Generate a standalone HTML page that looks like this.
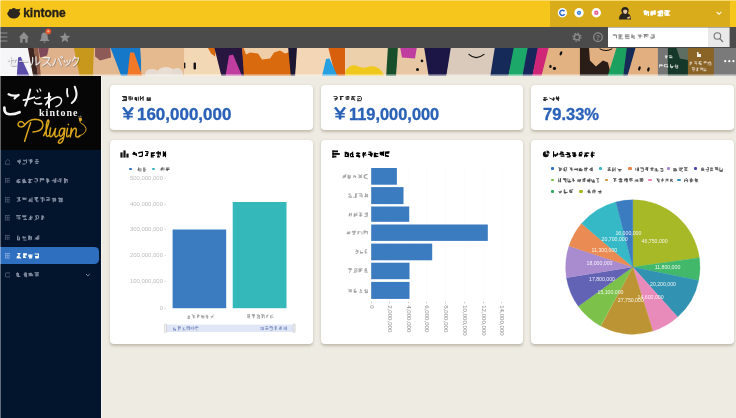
<!DOCTYPE html>
<html><head><meta charset="utf-8">
<style>
*{margin:0;padding:0;box-sizing:border-box}
html,body{width:736px;height:418px;overflow:hidden;background:#eeebe3;font-family:"Liberation Sans",sans-serif}
.abs{position:absolute}
#top{left:-4px;top:-4px;width:744px;height:31px;background:#f6c61c}
#topdark{left:550px;top:1px;width:180px;height:26px;background:#d9ac1b}
#tool{left:-4px;top:26.8px;width:744px;height:20.9px;background:#4b4b4b}
#side{left:-4px;top:76px;width:104.5px;height:346px;background:#03142d}
#logo{left:0;top:0;width:104.5px;height:74px;background:#060606}
.card{position:absolute;background:#fff;border-radius:4px;box-shadow:0 1.2px 2.8px rgba(100,90,65,.33)}
.val{position:absolute;font-weight:bold;font-size:17px;color:#2a62b8;line-height:17px;-webkit-text-stroke:.35px #2a62b8;white-space:nowrap;transform-origin:0 0}
.ax{position:absolute;font-size:5.2px;line-height:6px;color:#9a9a9a;white-space:nowrap}
.dot{position:absolute;width:3.4px;height:3.4px;border-radius:1.1px}
#w{position:absolute;left:0;top:0;width:736px;height:418px;filter:blur(.5px);background:#eeebe3}
</style></head><body><div id="w">
<div id="top" class="abs"></div>
<div id="topdark" class="abs"></div><div class="abs" style="left:0;top:0;width:736px;height:1.2px;background:#fff;opacity:.35"></div>
<div id="tool" class="abs"></div>

<svg class="abs" style="left:0;top:47.6px" width="736" height="28.4" viewBox="0 47.6 736 28.4">
<defs><filter id="bl" x="-2%" y="-10%" width="104%" height="120%"><feGaussianBlur stdDeviation="0.6"/></filter></defs>
<g filter="url(#bl)">
<rect x="-2" y="46" width="740" height="32" fill="#e2b48c"/>
<!-- seg1 -->
<polygon points="-2,46 28,46 34,78 -2,78" fill="#f6f6f8"/>
<polygon points="16.5,78 18,57 20.6,56.4 30.6,78" fill="#5a4eaa"/>
<polygon points="27.5,46 33.4,46 38.4,78 33.5,78" fill="#3c2620"/><polygon points="33.4,46 38.5,46 41.5,78 38.4,78" fill="#8c5c48"/>
<polygon points="38,46 74,46 80,78 41,78" fill="#e0b28c"/>
<polygon points="38,46 49,46 47,55 40,57" fill="#7e4858"/>
<polygon points="73.5,46 94,46 93,78 80,78" fill="#c8981c"/>
<polygon points="94,46 111,46 122,78 93,78" fill="#e2b890"/>
<polygon points="95,46 110,46 111,57 100,60 95,56" fill="#8e5a58"/>
<polygon points="110,46 141,46 141,78 122,78" fill="#1878c8"/>
<polygon points="127,78 130,52 134,52 143,78" fill="#f07828"/>
<polygon points="140,46 186,46 186,78 142,78" fill="#e4ba8e"/>
<g opacity=".8"><ellipse cx="152" cy="73.5" rx="7" ry="5" fill="#e8e4e2"/><ellipse cx="166" cy="72.5" rx="9" ry="6" fill="#ebe7e5"/><ellipse cx="177" cy="73.5" rx="6" ry="6" fill="#e6e2e0"/></g>
<!-- seg2 -->
<polygon points="184,46 214,46 222,78 184,78" fill="#f3d8b6"/>
<polygon points="207,46 216,46 215,56 211,53" fill="#d8680f"/>
<polygon points="214,46 242,46 245,78 222,78" fill="#261640"/>
<polygon points="225,78 229,55 233,54 243,78" fill="#c03ca0"/>
<polygon points="242,46 291,46 291,78 244,78" fill="#d96a10"/>
<polygon points="243,46 291,46 291,51 285,53 280,50 274,52 270,58 262,59 258,53 250,52 246,54" fill="#f0cfa8"/>
<polygon points="288,46 298,46 295,78 291,78" fill="#1a1430"/>
<polygon points="297,46 330,46 336,78 295,78" fill="#f3d6b6"/>
<polygon points="328,46 346,46 345,78 336,78" fill="#d8600f"/>
<polygon points="321.5,78 326,58.5 329.5,58 338.5,78" fill="#28a0e0"/>
<polygon points="345,46 388,46 388,78 345,78" fill="#ecd0ac"/>
<path d="M345,78 L345.5,70 Q350,64 356,65 Q362,68 366,67 Q373,64.5 379,68 Q383,71 385,78 Z" fill="#f0c81a"/>
<!-- seg3 -->
<polygon points="388,46 399,46 396,78 386,78" fill="#18502a"/>
<polygon points="398,46 426,46 430,78 396,78" fill="#e8c8a4"/>
<polygon points="400,46 417,46 415,58 402,57" fill="#c03ca0"/>
<polygon points="424,46 452,46 446,78 429,78" fill="#1e1646"/>
<polygon points="451,46 496,46 491,78 446,78" fill="#d9cabb"/>
<polygon points="495,46 515,46 508,78 490,78" fill="#182a5a"/>
<polygon points="514,46 529,46 522,78 508,78" fill="#1fa868"/>
<polygon points="528,46 539,46 532,78 522,78" fill="#18285a"/>
<polygon points="538,46 550,46 541,78 532,78" fill="#d02878"/>
<polygon points="549,46 582,46 582,78 541,78" fill="#e2b282"/>
<!-- seg4 -->
<polygon points="580,46 612,46 612,78 580,78" fill="#e0b080"/>
<polygon points="580,46 589,46 590,60 596,66 603,60 608,62 612,78 580,78" fill="#2a1a16"/>
<polygon points="617,46 629,46 623,78 607,78" fill="#1fa060"/>
<polygon points="627,46 637,46 627,78 623,78" fill="#182a58"/>
<polygon points="636,46 660,46 660,78 627,78" fill="#e2b080"/>
<rect x="658" y="46" width="12" height="32" fill="#747474"/>
<rect x="668" y="46" width="21" height="32" fill="#12382a"/>
<polygon points="676,46 690,46 690,60 680,58" fill="#5e6e62"/>
<rect x="688" y="46" width="27" height="32" fill="#8a6428"/>
<rect x="714" y="46" width="24" height="32" fill="#7a7a7a"/>
</g>
<!-- faces -->
<g fill="#111">
<rect x="184" y="62" width="1.3" height="6" rx=".6"/><rect x="193.5" y="62" width="2.4" height="7" rx="1"/>
<circle cx="422" cy="60.5" r="1.3"/><circle cx="417.5" cy="69" r="1.5"/>
<ellipse cx="561" cy="53" rx="1.2" ry="2.2" transform="rotate(20 561 53)"/><ellipse cx="554.5" cy="68" rx="1.6" ry="1.6"/>
<ellipse cx="639.5" cy="68" rx="1.2" ry="2.3" transform="rotate(15 639.5 68)"/><ellipse cx="648.5" cy="69" rx="1.2" ry="2.3" transform="rotate(15 648.5 69)"/>
<ellipse cx="550.5" cy="66" rx="1.2" ry="1.6"/>
</g>
<path d="M469,54 Q476,60.5 484,54" fill="none" stroke="#111" stroke-width="1.2" stroke-linecap="round"/>
<path d="M600,48.5 Q606,52 612,48.5" fill="none" stroke="#111" stroke-width="1" stroke-linecap="round"/>
<rect x="0" y="74" width="736" height="2" fill="#fff" opacity=".55"/>
</svg>

<svg class="abs" style="left:0;top:0" width="736" height="48" viewBox="0 0 736 48">
<!-- kintone cloud -->
<g fill="#2b2620">
<ellipse cx="13.7" cy="14.2" rx="5.9" ry="4.2"/>
<circle cx="10.8" cy="11.2" r="2.1"/><circle cx="13.8" cy="10.3" r="2.2"/><circle cx="16.8" cy="11.2" r="2.1"/>
<circle cx="9" cy="13.4" r="1.7"/><circle cx="18.4" cy="13.4" r="1.7"/><path d="M17,10 L20.4,8.6 L19.6,11.6Z"/>
</g>
<text x="23.2" y="17.1" font-family="Liberation Sans, sans-serif" font-weight="bold" font-size="12.2" fill="#241f1a" stroke="#241f1a" stroke-width=".35" textLength="42.6" lengthAdjust="spacingAndGlyphs">kintone</text>
<!-- right icons -->
<g>
<circle cx="562.4" cy="12.8" r="4.7" fill="#fff"/><circle cx="579" cy="12.8" r="4.7" fill="#fff"/><circle cx="596.3" cy="12.8" r="4.7" fill="#fff"/>
<path d="M564.4,11.2 A2.6,2.6 0 1 0 564.6,14.2" fill="none" stroke="#2a6ad0" stroke-width="1.5"/>
<circle cx="579" cy="12.8" r="2.1" fill="#2a78d8"/><circle cx="579" cy="12.8" r=".8" fill="#cfe0f8"/>
<circle cx="596.3" cy="12.8" r="2.2" fill="#e8608a"/><circle cx="596.3" cy="12.8" r=".8" fill="#fbd"/>
</g>
<!-- avatar -->
<g>
<path d="M619,19.5 Q619,13 625,12.5 Q631,13 631,19.5 Z" fill="#2a2420"/>
<circle cx="625" cy="10.6" r="3.6" fill="#2a2420"/>
<ellipse cx="625.2" cy="11.6" rx="2.1" ry="2.3" fill="#e8c8a8"/>
<path d="M621.6,10 Q625,6.5 628.6,10 Q625,9 621.6,10Z" fill="#2a2420"/>
<path d="M627,17.5 l3,-1.2 l.6,1.6 l-3,1.2z" fill="#e0c080"/>
</g>
<!-- chevron -->
<path d="M716.6,11.8 L719,14.2 L721.4,11.8" fill="none" stroke="#fff" stroke-width="1.1" opacity=".9"/>
<!-- toolbar left -->
<g fill="none" stroke="#8e8e8e" stroke-width="1.1"><path d="M0,33 H7.4 M0,37 H7.4 M0,41 H7.4"/></g>
<g fill="#8f8f8f">
<path d="M18.8,37.4 L23.9,32 L29,37.4 L27.6,37.4 L27.6,42.8 L25.2,42.8 L25.2,39 L22.6,39 L22.6,42.8 L20.2,42.8 L20.2,37.4 Z"/>
<path d="M44.5,32.4 Q47.6,32.6 47.7,36.4 L47.9,39 L49.2,40.3 L49.2,41 L39.8,41 L39.8,40.3 L41.1,39 L41.3,36.4 Q41.4,32.6 44.5,32.4 Z"/><rect x="43.5" y="41.4" width="2" height="1.3" rx=".6"/>
<path d="M64.9,32.2 L66.4,35.7 L70.2,36 L67.3,38.5 L68.2,42.3 L64.9,40.3 L61.6,42.3 L62.5,38.5 L59.6,36 L63.4,35.7 Z"/>
</g>
<circle cx="48.3" cy="31.4" r="2.9" fill="#e5532a"/><circle cx="48.3" cy="31.4" r="1.1" fill="#f6b8a0"/>
<!-- gear / help -->
<g fill="none" stroke="#8a8a8a">
<circle cx="577" cy="37.2" r="2.7" stroke-width="1.4"/><circle cx="577" cy="37.2" r="4" stroke-width="1.3" stroke-dasharray="1.4 1.74"/>
<circle cx="598" cy="37.2" r="4.3" stroke-width="1.3"/>
</g>
<text x="598" y="39.6" text-anchor="middle" font-family="Liberation Sans, sans-serif" font-weight="bold" font-size="6.6" fill="#8a8a8a">?</text>
<!-- search -->
<rect x="608" y="27.4" width="100" height="19.6" fill="#fff"/>
<rect x="708" y="27.4" width="21.6" height="19.6" fill="#e9e9e9"/>
<circle cx="717.4" cy="36" r="3.3" fill="none" stroke="#777" stroke-width="1.1"/><path d="M719.8,38.6 L723,42" stroke="#777" stroke-width="1.3"/>
</svg>
<svg class="abs" style="left:612px;top:34.3px;opacity:0.8;filter:blur(0.35px);" width="44" height="6.2" viewBox="0 0 44 6.2"><path d="M1.3,0.5H3.7M4.3,0.4V3.5M0.8,1.4H3.7M4.5,1.1V4.4M6.4,4.8H11.2M6.5,0.9H10.4M6.8,3.3L10.4,1.9M7.0,0.1V3.8M8.6,0.6V4.4M8.0,1.4V4.7M13.2,2.6H16.9M13.4,0.9V3.7M13.3,4.6H17.7M13.8,2.9H17.5M13.4,1.9H17.4M13.0,0.7H17.3M22.1,1.8V4.9M20.0,2.1H22.6M20.1,0.2V3.5M19.9,0.5V4.1M19.1,2.9L22.6,4.6M21.2,2.2L22.2,1.9M25.6,1.1H29.2M28.2,0.5V3.4M26.1,2.0H30.3M27.9,1.1V4.6M32.6,0.5L35.1,3.3M31.9,0.6H35.4M31.6,0.5H35.4M31.6,2.0H36.5M32.6,0.5V4.0M32.9,0.8H36.7M39.0,0.9H42.6M41.3,0.9V3.8M38.8,4.8L42.2,3.9M38.0,3.3H42.8M42.2,0.6V3.8" fill="none" stroke="#666" stroke-width="0.80"/></svg><svg class="abs" style="left:643px;top:9.6px;opacity:1;filter:blur(0.3px);" width="28.5" height="7.2" viewBox="0 0 28.5 7.2"><path d="M1.5,1.6H6.2M2.5,4.6L5.6,1.4M2.3,0.1V4.1M1.3,1.8H6.1M5.4,2.1V6.1M0.4,1.5H4.7M9.0,5.6L10.2,2.1M11.9,0.3V4.9M8.6,1.9V5.0M8.0,2.1V5.6M11.5,0.2V4.4M7.2,2.9L12.0,4.1M16.2,3.4L18.4,0.8M15.4,5.7H19.5M15.5,5.1L20.0,1.3M14.6,1.9H19.6M14.4,2.6H20.2M15.3,2.9H20.2M22.2,1.2H27.3M25.0,1.7V4.4M21.5,3.8H25.8M24.6,1.0V5.7M21.5,0.3L25.0,0.6M21.9,1.9V4.2" fill="none" stroke="#fff" stroke-width="1.30"/></svg><svg class="abs" style="left:643px;top:9.6px;opacity:0.9;filter:blur(0.3px);" width="28.5" height="7.2" viewBox="0 0 28.5 7.2"><path d="M1.5,0.6V5.1M1.6,3.2L3.9,5.4M2.9,1.3L5.9,2.8M0.6,2.5H5.6M1.6,0.7V4.3M5.4,1.4V4.8M7.8,2.5L13.2,3.0M9.7,2.7L10.7,3.2M7.7,1.4H12.8M7.9,3.4H11.5M14.4,5.7H20.2M14.4,5.2H19.0M14.8,5.1L19.6,5.3M19.6,0.9V5.2M17.3,0.7V4.6M14.8,1.7L20.1,0.1M21.4,5.1H27.2M23.6,1.2V6.0M22.3,1.0H26.1M21.4,1.2H26.0M22.7,2.0H26.2" fill="none" stroke="#fff" stroke-width="1.20"/></svg><svg class="abs" style="left:0;top:48px" width="736" height="28" viewBox="0 48 736 28">
<defs><filter id="sh" x="-5%" y="-30%" width="110%" height="160%"><feDropShadow dx="0.5" dy="0.6" stdDeviation="0.5" flood-color="#333" flood-opacity=".75"/></filter></defs>
<g fill="none" stroke="#f4f4f4" stroke-width="1.05" stroke-linecap="round" stroke-linejoin="round" filter="url(#sh)" opacity=".92">
<!-- se -->
<path d="M8,60.2 L15.6,59 L14,61.8 M10.6,57 L10.6,63.8 Q10.8,65.2 12.4,65.2 L16,65.2"/>
<!-- - -->
<path d="M19.5,61.2 L27.5,61.2"/>
<!-- ru -->
<path d="M32.6,57.2 L32.6,61.6 Q32.4,64.2 30.6,65.6 M36,56.8 L36,65 Q38.6,64.2 40,61.6"/>
<!-- su -->
<path d="M43,57.6 L49.6,57.6 Q48.4,62.4 42.6,65.6 M47,62 L50.6,65.6"/>
<!-- pa -->
<path d="M55.4,59 Q55,62.6 52.8,65.4 M58.6,58.6 Q60,62 61.4,65.2"/><circle cx="61.6" cy="57.4" r="1" stroke-width=".9"/>
<!-- tsu -->
<path d="M64.4,60.6 L65,62.4 M66.8,60.2 L67.4,62 M70.4,59.8 Q70,63.4 66,65.6"/>
<!-- ku -->
<path d="M74.6,56.8 Q73.8,59.4 72.4,61 M74.4,58 L78.6,58 Q78,63 73.6,65.8"/>
</g>
<g fill="#fff">
<circle cx="725.2" cy="61.2" r="1.1"/><circle cx="729.3" cy="61.2" r="1.1"/><circle cx="733.4" cy="61.2" r="1.1"/>
<path d="M697,52 h1.6 v2 h2.4 v3 h-4 z" opacity=".9"/>
</g>
</svg><svg class="abs" style="left:663.6px;top:54.4px;opacity:0.8;filter:blur(0.35px);" width="9.8" height="5.6" viewBox="0 0 9.8 5.6"><path d="M1.2,3.6H2.9M1.2,2.3H3.5M0.8,2.1H3.7M2.2,1.4V4.6M5.4,3.3L8.5,2.9M4.8,1.7H7.7M5.0,3.3H7.8M5.8,3.7H8.4" fill="none" stroke="#fff" stroke-width="0.80"/></svg><svg class="abs" style="left:658.5px;top:63.6px;opacity:0.8;filter:blur(0.35px);" width="21" height="5.6" viewBox="0 0 21 5.6"><path d="M0.5,0.3V3.4M0.4,1.7H4.5M1.2,0.4H3.5M0.1,1.6H3.6M5.5,0.4V3.1M5.2,0.4H8.8M5.9,2.7H9.4M8.3,1.4V3.6M11.2,3.2H13.5M12.3,3.4L14.0,3.7M11.0,2.4H14.6M12.2,4.1L13.9,3.1M11.5,0.1V3.2M15.5,2.1H18.7M16.7,0.4V3.7M16.7,4.1H18.8M18.7,0.8V4.3" fill="none" stroke="#fff" stroke-width="0.80"/></svg><svg class="abs" style="left:689px;top:60.8px;opacity:0.72;filter:blur(0.35px);" width="23.6" height="5.4" viewBox="0 0 23.6 5.4"><path d="M1.0,1.1V4.4M1.6,0.7V3.9M2.4,1.0V3.0M0.9,1.2H3.2M6.6,1.5V3.0M5.5,2.2H7.8M7.6,1.5V3.7M5.2,0.6H7.8M10.2,0.9L11.8,4.2M9.5,2.5H12.7M9.5,2.2L13.0,3.9M10.4,1.4V3.6M9.9,0.2H12.7M9.7,0.8H12.5M14.4,1.6H17.9M14.8,0.3H17.1M15.0,1.8H16.8M15.4,1.2L17.7,0.2M19.1,2.2L21.1,0.8M19.6,4.0H22.4M22.0,1.4V3.7M19.1,1.1V3.6M21.1,0.4V2.9M18.8,1.5L21.5,1.3" fill="none" stroke="#fff" stroke-width="0.66"/></svg><svg class="abs" style="left:692px;top:67.2px;opacity:0.72;filter:blur(0.35px);" width="16" height="5.2" viewBox="0 0 16 5.2"><path d="M0.3,2.7H2.9M0.2,0.8H2.5M0.8,3.8L2.0,4.2M0.7,0.3V2.9M0.2,0.6H2.6M2.7,1.1V3.3M4.6,1.2H6.7M5.2,1.0V3.5M5.3,3.8L5.7,1.6M5.4,0.5V3.9M4.1,3.2L6.3,3.4M4.7,3.9L5.7,3.9M8.2,0.6L9.6,2.2M10.7,1.1V3.7M9.3,0.8V2.8M8.2,2.7L11.0,1.3M8.4,1.2H10.8M11.9,3.8H14.3M11.7,4.2L14.2,1.2M11.9,3.4H14.5M12.0,0.6V3.7" fill="none" stroke="#fff" stroke-width="0.63"/></svg><div id="side" class="abs"><div id="logo" class="abs"></div></div><svg class="abs" style="left:0;top:76px" width="101" height="76" viewBox="0 76 101 76">
<g fill="none" stroke="#f4f4f4" stroke-linecap="round" stroke-linejoin="round" stroke-width="1.9">
<!-- ko -->
<path d="M8.6,94.2 Q13,96.6 18.6,95 Q16,96.6 14.6,98.4" stroke-width="2.3"/>
<path d="M4.4,107.6 Q4,113.6 9,114.2 Q14,114.6 19.6,112.2" stroke-width="2.7"/>
<!-- da -->
<path d="M23.4,100.2 Q29,99.4 34.4,97.2" stroke-width="1.7"/>
<path d="M30.2,89.6 Q28.4,98 25.2,105.6" stroke-width="2.1"/>
<path d="M35.6,98.4 Q38,98.6 40,97.4" stroke-width="1.5"/>
<path d="M34.6,102.4 Q35,104.6 41.6,103.6" stroke-width="1.6"/>
<path d="M37,90 L38,92 M39.8,89 L40.8,91" stroke-width="1.2"/>
<!-- wa -->
<path d="M49,93.2 L49,107.6" stroke-width="2"/>
<path d="M44.8,98.2 L50.6,96.6 L45.6,104.8 Q52,97.6 57.6,97 Q62.4,97.6 61.4,101.6 Q60.4,105 56,106.6" stroke-width="1.5"/>
<!-- ri -->
<path d="M67.2,88.8 Q66.6,93 67.8,96.4" stroke-width="1.8"/>
<path d="M74.8,86.8 Q77.4,93 76,97.4 Q75,100.8 71.8,103" stroke-width="2.1"/>
</g>
<text x="39" y="116.4" font-family="Liberation Serif, serif" font-weight="bold" font-size="10" fill="#f0f0f0" textLength="38.5" lengthAdjust="spacing">kintone</text>
<g fill="none" stroke="#dba51e" stroke-linecap="round" stroke-linejoin="round" stroke-width="1.5">
<!-- swirl + P -->
<path d="M24.6,124.6 Q22.6,120.4 19.4,122 Q16.6,124.2 19.4,126.6 Q23,128 25.6,124 Q29,119.6 35,119.2 Q43.4,119.4 43,125.4 Q42,131.6 33,132"/>
<path d="M30.6,122.8 Q27.4,132 24.6,141.2"/>
<!-- l -->
<path d="M43.6,135.6 Q47,130 48.8,122.4 Q49.2,119.6 47.8,120.2 Q45.6,124 46.2,134.4 Q46.4,137.4 48.6,135.6"/>
<!-- u -->
<path d="M50.6,128 Q49,135 50.2,136.6 Q52.6,137.6 55.6,128.4 Q54,136 55.6,136.8 Q56.8,137.2 58,135.4"/>
<!-- g -->
<path d="M64.2,129 Q61.6,126.8 59.6,131 Q58.4,135.6 60.6,136.4 Q63,136 64.8,128.2 Q64.4,137 62.6,141 Q60.4,144.4 58.4,142.6 Q58.2,140.2 63,137.6"/>
<!-- i -->
<path d="M67.6,128.2 Q66,135.6 67,136.6 Q68,137 69.2,135.4"/><path d="M68.4,124.4 L68.5,124.6" stroke-width="1.5"/>
<!-- n -->
<path d="M71.4,128.2 L70.2,137 Q71.6,129.8 74.8,128.2 Q76.6,128 76.2,131.4 Q75.2,136.4 76.4,136.8 Q78.4,137.2 80,135.6"/>
<!-- cord -->
<path d="M80,135.6 Q86.4,133.4 86,128.4 Q85,124.6 81.4,123.6 Q79.6,122.6 80,120.6" stroke-width="1"/>
</g>
<path d="M78.6,118 l2.8,-.6 l.8,3 l-2.8,.8z" fill="#e0aa20"/><path d="M79.2,117.6 l-.4,-1.6 M81,117.2 l-.4,-1.6" stroke="#e8e8e8" stroke-width=".6"/>
</svg><div class="abs" style="left:0;top:247.3px;width:98.6px;height:17.2px;background:#2e6fc0;border-radius:0 4.5px 4.5px 0"></div><svg class="abs" style="left:15.9px;top:159.3px;opacity:0.78;filter:blur(0.35px);" width="24.3" height="6.4" viewBox="0 0 24.3 6.4"><path d="M3.3,0.8V4.0M4.3,0.4V3.6M1.0,2.3H3.9M1.9,1.1L3.8,5.2M7.2,1.3H10.1M7.3,1.2L9.1,2.3M10.5,0.3V4.3M6.3,5.0H9.7M15.6,0.6V3.7M12.4,1.1H16.7M14.5,0.6V4.9M14.6,0.6L15.8,0.4M13.5,2.3H16.6M19.5,4.3H22.4M18.8,2.6H23.2M19.6,2.0H21.8M19.4,4.2H21.8M19.6,0.6H22.2" fill="none" stroke="#aeb6c6" stroke-width="0.90"/></svg><svg class="abs" style="left:4.7px;top:159.2px;opacity:.75" width="5.6" height="5.6" viewBox="0 0 6.4 6.4"><path d="M.4,3 L3.2,.5 L6,3 V6 H.4Z" fill="none" stroke="#9aa3b5" stroke-width=".8" opacity=".8"/></svg><svg class="abs" style="left:15.9px;top:178.0px;opacity:0.78;filter:blur(0.35px);" width="53.3" height="6.4" viewBox="0 0 53.3 6.4"><path d="M1.4,1.6H4.4M0.5,3.8H3.9M1.4,3.9H4.4M0.1,2.6L3.0,5.2M1.0,2.3L3.1,2.7M0.5,4.0L4.4,4.4M6.6,4.5H10.5M8.4,0.7V3.8M6.6,3.4H10.2M6.1,2.3H9.5M7.2,0.8V5.4M6.3,2.5L8.7,4.8M13.5,4.5L14.6,1.6M13.8,1.4V3.9M12.1,1.5H16.6M13.6,0.7V5.4M13.2,1.5V4.7M12.1,4.4L15.5,4.5M18.3,3.2L20.4,4.5M18.5,0.6H21.5M21.4,1.3V3.5M21.1,0.7V3.6M24.6,1.5H28.1M24.2,0.3H28.1M24.0,1.8H28.3M24.3,0.2V4.3M32.7,0.8V4.0M31.3,0.3L33.1,4.0M30.6,4.1L32.1,4.3M31.6,0.8V5.3M30.7,0.2V3.7M31.5,1.5V3.8M39.7,0.2V4.7M35.7,2.7H39.4M39.8,0.2V4.4M37.9,0.7L38.5,5.1M42.4,3.2H45.0M44.7,1.7V4.7M43.0,1.1L45.4,2.6M42.0,1.8V3.8M42.9,1.0H46.1M49.0,1.8L51.5,2.1M51.3,1.5V4.7M48.0,1.5H51.4M48.5,0.0V5.4M49.6,1.2V5.1M49.4,0.4L50.8,1.9" fill="none" stroke="#aeb6c6" stroke-width="0.90"/></svg><svg class="abs" style="left:4.7px;top:177.89999999999998px;opacity:.75" width="5.6" height="5.6" viewBox="0 0 6.4 6.4"><g fill="none" stroke="#8f98aa" stroke-width=".75" opacity=".8"><rect x=".5" y=".6" width="5.4" height="5.2"/><path d="M.5,3.2 H5.9 M3.2,.6 V5.8"/></g></svg><svg class="abs" style="left:15.9px;top:197.4px;opacity:0.78;filter:blur(0.35px);" width="47.7" height="6.4" viewBox="0 0 47.7 6.4"><path d="M3.1,0.1V3.8M0.8,0.4L4.3,4.1M1.6,0.1L4.4,0.4M3.3,0.2V3.8M0.7,4.3L4.5,3.7M7.1,2.0H9.7M6.6,0.8L10.5,2.7M6.5,2.7L9.1,1.7M6.2,1.2H10.8M12.1,4.1H16.2M13.8,1.6V4.6M16.0,0.2V5.4M14.0,1.5V4.0M13.4,4.1L15.3,2.4M18.6,1.7L21.6,5.2M20.2,4.0L22.6,4.0M18.8,1.7H22.0M18.6,0.5H22.3M18.7,0.5H21.8M20.5,0.8V4.1M26.2,0.3V5.3M24.0,1.0H28.3M25.8,1.4L27.3,0.1M26.6,0.7V4.7M28.2,1.4V4.0M30.1,0.4H33.5M30.1,3.5L33.8,1.1M30.8,2.8H34.3M30.6,3.3H33.4M37.6,4.6L38.3,4.0M39.3,0.9V3.9M35.8,1.4H39.7M39.1,1.6V4.9M36.4,3.0H40.4M37.3,1.2V5.3M42.1,1.5H46.3M43.6,4.8L45.0,1.8M42.7,4.7H46.2M46.2,0.9V5.1M45.7,0.8V4.9M43.4,0.4V4.7" fill="none" stroke="#aeb6c6" stroke-width="0.90"/></svg><svg class="abs" style="left:4.7px;top:197.29999999999998px;opacity:.75" width="5.6" height="5.6" viewBox="0 0 6.4 6.4"><g fill="none" stroke="#8f98aa" stroke-width=".75" opacity=".8"><rect x=".5" y=".6" width="5.4" height="5.2"/><path d="M.5,3.2 H5.9 M3.2,.6 V5.8"/></g></svg><svg class="abs" style="left:15.9px;top:215.10000000000002px;opacity:0.78;filter:blur(0.35px);" width="30" height="6.4" viewBox="0 0 30 6.4"><path d="M0.2,0.4H4.9M0.0,1.0H3.6M3.1,1.3V4.9M0.5,3.1H4.7M7.4,4.5H10.9M6.2,1.3H9.6M8.0,4.5L10.1,3.4M6.1,0.8H10.6M6.6,1.8H9.5M7.1,1.6H10.1M16.0,1.2V3.6M13.2,2.4H16.0M14.7,0.4V5.1M12.3,4.3H15.5M13.5,4.0H15.5M14.5,1.5V3.9M19.3,0.9L21.9,4.4M18.6,5.1L20.9,4.1M22.6,1.1V3.7M19.4,0.7H22.8M20.2,1.2V4.2M25.3,4.8L27.4,1.3M26.6,1.4V4.9M25.9,0.6V3.8M25.7,0.9L28.4,2.4M26.8,0.2V4.4" fill="none" stroke="#aeb6c6" stroke-width="0.90"/></svg><svg class="abs" style="left:4.7px;top:215.0px;opacity:.75" width="5.6" height="5.6" viewBox="0 0 6.4 6.4"><g fill="none" stroke="#8f98aa" stroke-width=".75" opacity=".8"><rect x=".5" y=".6" width="5.4" height="5.2"/><path d="M.5,3.2 H5.9 M3.2,.6 V5.8"/></g></svg><svg class="abs" style="left:15.9px;top:234.60000000000002px;opacity:0.78;filter:blur(0.35px);" width="24.3" height="6.4" viewBox="0 0 24.3 6.4"><path d="M1.5,1.4V5.1M3.5,1.8V4.9M1.9,0.4V5.3M1.5,4.9H3.8M7.3,5.1H10.7M7.3,1.2V3.7M6.1,2.2H10.2M7.8,3.4L9.9,2.5M12.6,0.5V5.1M15.1,1.2V5.1M15.3,1.7V4.7M13.5,0.3V3.7M13.7,1.3V5.2M13.2,2.2H15.9M21.3,0.8V4.8M18.7,4.2L22.4,2.1M22.8,0.1V4.5M19.7,4.1H22.6M19.0,3.1H22.9" fill="none" stroke="#aeb6c6" stroke-width="0.90"/></svg><svg class="abs" style="left:4.7px;top:234.5px;opacity:.75" width="5.6" height="5.6" viewBox="0 0 6.4 6.4"><g fill="none" stroke="#8f98aa" stroke-width=".75" opacity=".8"><rect x=".5" y=".6" width="5.4" height="5.2"/><path d="M.5,3.2 H5.9 M3.2,.6 V5.8"/></g></svg><svg class="abs" style="left:15.9px;top:253.10000000000002px;opacity:1;filter:blur(0.35px);" width="24.3" height="6.4" viewBox="0 0 24.3 6.4"><path d="M0.9,4.0L3.4,2.5M0.5,5.0L3.8,3.9M3.1,0.5V4.2M1.4,0.6H4.5M2.9,0.2V4.1M1.5,4.9H5.1M7.3,0.9H10.9M8.5,1.1V3.9M7.0,4.4L10.2,4.4M7.7,1.0V3.7M7.0,1.4L10.8,2.0M14.6,1.5V5.0M12.6,3.5H16.4M12.9,1.7V3.8M12.3,2.1H16.6M13.0,4.9H16.2M19.2,4.9H22.2M18.6,1.0H23.0M19.6,1.0H23.0M19.2,4.6H23.0M22.4,1.5V5.1M19.0,3.6H22.9" fill="none" stroke="#ffffff" stroke-width="1.10"/></svg><svg class="abs" style="left:4.7px;top:253.0px;opacity:.75" width="5.6" height="5.6" viewBox="0 0 6.4 6.4"><g fill="none" stroke="#dfe8f8" stroke-width=".75" opacity=".8"><rect x=".5" y=".6" width="5.4" height="5.2"/><path d="M.5,3.2 H5.9 M3.2,.6 V5.8"/></g></svg><svg class="abs" style="left:15.9px;top:272.3px;opacity:0.78;filter:blur(0.35px);" width="24.3" height="6.4" viewBox="0 0 24.3 6.4"><path d="M1.5,0.4V3.8M0.7,0.9V3.8M2.5,1.0V5.1M0.7,4.4H4.4M7.5,2.3H9.7M9.2,0.1V4.7M10.5,0.6V5.4M8.5,1.7V3.6M9.1,0.6V5.1M14.9,1.7V4.0M12.2,1.5H16.1M12.7,2.7H17.2M13.0,2.7L15.2,0.6M12.3,3.7H17.2M18.8,3.0H22.7M18.3,0.8H23.0M21.9,0.1V4.5M20.2,0.3V4.8" fill="none" stroke="#aeb6c6" stroke-width="0.90"/></svg><svg class="abs" style="left:4.7px;top:272.2px;opacity:.75" width="5.6" height="5.6" viewBox="0 0 6.4 6.4"><rect x=".5" y="1" width="5.4" height="4.6" rx=".6" fill="none" stroke="#9aa3b5" stroke-width=".8" opacity=".85"/></svg><svg class="abs" style="left:85px;top:272px" width="6" height="6" viewBox="0 0 6 6"><path d="M1,2 L2.9,3.9 L4.8,2" fill="none" stroke="#aeb6c6" stroke-width=".9" opacity=".8"/></svg><div class="abs" style="left:100.5px;top:76px;width:1.5px;height:342px;background:#fff;opacity:.5"></div><div class="abs" style="left:0;top:0;width:1.2px;height:418px;background:#fff;opacity:.38"></div><div class="card" style="left:109.8px;top:84.9px;width:202.9px;height:45.4px"></div><div class="card" style="left:321.1px;top:84.9px;width:202.4px;height:45.4px"></div><div class="card" style="left:531.2px;top:84.9px;width:202.8px;height:45.4px"></div><svg class="abs" style="left:121.6px;top:96px;opacity:0.92;filter:blur(0.35px);" width="30" height="6.2" viewBox="0 0 30 6.2"><path d="M1.0,0.4H4.5M1.3,3.4H4.2M0.0,4.6H4.9M1.1,1.7H4.9M0.0,0.4H4.4M4.3,0.9V4.3M10.3,0.8V3.4M7.4,3.0H11.0M8.1,0.2V4.6M6.0,1.0H9.5M6.9,1.8V3.5M13.5,1.0V4.2M16.3,0.7V4.7M13.0,1.4V3.9M14.5,1.2V5.0M18.4,0.0V4.6M18.1,3.8L21.3,0.9M19.2,1.9L20.6,3.0M21.2,0.3V4.8M24.6,4.0H28.7M25.5,1.4V4.0M24.9,3.2H28.7M28.0,1.3V3.4M24.8,4.2H29.0M24.5,2.1H28.7" fill="none" stroke="#111" stroke-width="1.00"/></svg><svg class="abs" style="left:333px;top:96px;opacity:0.92;filter:blur(0.35px);" width="30" height="6.2" viewBox="0 0 30 6.2"><path d="M0.4,0.3H4.2M3.9,1.6V3.5M2.1,3.0L4.7,1.4M2.0,4.8L4.3,1.8M1.2,2.9H3.9M6.6,0.5H10.6M7.5,2.0L8.5,2.8M7.9,0.1V4.1M7.5,1.5V4.0M12.2,1.2H16.6M12.6,2.9H16.3M13.5,0.5H16.1M13.2,3.2H15.8M18.1,3.1H21.8M19.4,1.1L22.0,4.8M18.6,0.7H22.4M18.9,1.5V4.0M18.9,0.2L20.5,1.9M26.2,3.1L26.6,2.1M24.3,4.7H28.3M28.4,1.2V4.1M25.0,1.8V5.2M24.3,0.4H28.0" fill="none" stroke="#111" stroke-width="1.00"/></svg><svg class="abs" style="left:542.7px;top:96px;opacity:0.92;filter:blur(0.35px);" width="18.8" height="6.2" viewBox="0 0 18.8 6.2"><path d="M0.1,3.7L4.8,3.4M0.1,3.9L3.1,4.9M1.8,1.1V4.8M0.4,1.8H3.9M10.3,1.7V5.0M10.7,1.5V3.7M6.4,1.9L10.5,3.9M11.0,1.7V4.1M14.4,1.5V4.2M13.5,0.4V3.5M15.4,0.3V5.0M12.7,2.2H16.6" fill="none" stroke="#111" stroke-width="1.00"/></svg><svg class="abs" style="left:122px;top:106.9px" width="13" height="13" viewBox="0 0 13 13"><g transform="scale(1.08,1)"><g fill="none" stroke="#2b63b7" stroke-width="2.4" stroke-linejoin="miter"><path d="M1,0.3 L5.6,6.6 L10.2,0.3 M5.6,6.2 L5.6,12.4"/></g><g stroke="#2b63b7" stroke-width="1.55"><path d="M1.2,6.8 H10 M1.2,9.6 H10"/></g></g></svg><div class="val" id="v1" style="left:137.2px;top:105.5px;transform:scaleX(.998)">160,000,000</div><svg class="abs" style="left:334px;top:106.9px" width="13" height="13" viewBox="0 0 13 13"><g transform="scale(1.08,1)"><g fill="none" stroke="#2b63b7" stroke-width="2.4" stroke-linejoin="miter"><path d="M1,0.3 L5.6,6.6 L10.2,0.3 M5.6,6.2 L5.6,12.4"/></g><g stroke="#2b63b7" stroke-width="1.55"><path d="M1.2,6.8 H10 M1.2,9.6 H10"/></g></g></svg><div class="val" id="v2" style="left:348.8px;transform:scaleX(.964);top:105.5px">119,000,000</div><div class="val" id="v3" style="left:542.6px;top:105.5px;transform:scaleX(.972)">79.33%</div><div class="card" style="left:109.8px;top:139.5px;width:202.9px;height:204.5px"></div><div class="card" style="left:321.1px;top:139.5px;width:202.4px;height:204.5px"></div><div class="card" style="left:531.2px;top:139.5px;width:202.8px;height:204.5px"></div><svg class="abs" style="left:110px;top:139px" width="204" height="206" viewBox="110 139 204 206">
<g fill="#111"><rect x="120.4" y="152.4" width="2.2" height="5.2"/><rect x="123.4" y="150.4" width="2.2" height="7.2"/><rect x="126.4" y="153.6" width="2.2" height="4"/></g>
<rect x="172.6" y="229.5" width="53.6" height="78.7" fill="#3b7bbf"/>
<rect x="232.7" y="202" width="53.8" height="106.2" fill="#35b8b9"/>
<rect x="165.2" y="324.6" width="129" height="7.4" fill="#dfe6f6"/>
<rect x="164.6" y="324" width="2" height="8.6" rx=".8" fill="#f4f4f4" stroke="#b8b8b8" stroke-width=".5"/>
<rect x="293.2" y="324" width="2" height="8.6" rx=".8" fill="#f4f4f4" stroke="#b8b8b8" stroke-width=".5"/>
</svg><svg class="abs" style="left:132.3px;top:150.5px;opacity:1;filter:blur(0.3px);" width="36" height="7.6" viewBox="0 0 36 7.6"><path d="M0.7,3.0L2.9,3.2M1.0,3.4H4.9M1.5,0.8L4.8,5.0M1.1,1.6L3.3,1.6M0.3,2.8H5.0M6.0,2.2L10.7,0.9M6.8,5.3H9.9M10.4,0.5V5.6M7.2,1.4H10.7M14.2,5.0L16.4,1.2M12.9,4.3H15.9M13.0,0.4H16.4M14.3,2.3L15.9,1.9M19.1,2.8H21.7M19.4,1.3V6.6M18.8,4.5H22.9M19.4,5.9H21.6M19.2,1.8H23.0M28.2,0.7V4.5M26.2,0.1V6.1M23.9,1.8H28.5M24.7,2.2H29.0M25.0,5.8H27.9M32.5,1.6V4.5M31.6,0.8L32.5,3.3M31.4,0.3V5.2M31.1,3.8H33.7M33.5,0.4V6.2M30.8,5.5L33.5,3.5" fill="none" stroke="#000" stroke-width="1.20"/></svg><div class="dot" style="left:129.2px;top:167.5px;background:#2f6fc0;width:3.2px;height:2.8px"></div><svg class="abs" style="left:137px;top:167px;opacity:0.8;filter:blur(0.35px);" width="10.4" height="5.6" viewBox="0 0 10.4 5.6"><path d="M1.6,0.4V3.5M3.9,1.3V4.5M1.8,2.4L2.3,4.4M0.5,2.9L3.1,1.7M6.0,1.1H8.4M6.9,1.6V3.7M6.4,4.3H8.2M6.4,2.9L9.2,2.9" fill="none" stroke="#222" stroke-width="0.80"/></svg><div class="dot" style="left:152.2px;top:167.5px;background:#35b8c0;width:3.2px;height:2.8px"></div><svg class="abs" style="left:159.8px;top:167px;opacity:0.8;filter:blur(0.35px);" width="10.6" height="5.6" viewBox="0 0 10.6 5.6"><path d="M1.3,0.8V3.7M0.6,3.0L2.9,0.6M3.9,0.8V3.4M2.3,0.2V3.2M6.5,3.4L8.0,3.4M6.1,2.1H8.6M5.7,2.5H9.5M6.3,2.2H8.3M5.9,1.0H9.6" fill="none" stroke="#222" stroke-width="0.80"/></svg><div class="ax" style="right:569.4px;top:175.20000000000002px;font-size:5.95px;color:#bbbbbb">500,000,000 -</div><div class="ax" style="right:569.4px;top:200.9px;font-size:5.95px;color:#bbbbbb">400,000,000 -</div><div class="ax" style="right:569.4px;top:226.4px;font-size:5.95px;color:#bbbbbb">300,000,000 -</div><div class="ax" style="right:569.4px;top:252.3px;font-size:5.95px;color:#bbbbbb">200,000,000 -</div><div class="ax" style="right:569.4px;top:278.40000000000003px;font-size:5.95px;color:#bbbbbb">100,000,000 -</div><div class="ax" style="right:569.4px;top:305.0px;font-size:5.95px;color:#bbbbbb">0 -</div><svg class="abs" style="left:186.5px;top:313.8px;opacity:0.68;filter:blur(0.35px);" width="28" height="5.8" viewBox="0 0 28 5.8"><path d="M0.4,4.4H3.0M0.2,4.0H2.7M0.7,2.6H3.0M1.9,1.4V3.7M1.9,1.7V4.3M5.4,1.8H8.0M6.2,3.5L7.5,3.6M6.4,1.3V4.3M4.9,0.0L8.2,3.7M6.5,1.6V4.1M10.4,2.2L11.9,2.2M10.5,0.7V4.1M10.2,1.6H12.9M11.0,0.3V3.6M10.0,2.7H12.0M15.1,1.6L16.3,4.7M15.7,1.2L15.9,4.3M14.3,2.6H17.3M16.9,1.2V3.8M14.4,1.1V3.9M19.2,0.6V3.8M20.7,1.5V4.7M20.3,1.0V4.8M19.5,2.5H21.4M24.2,4.3L25.3,3.3M25.1,2.0L26.8,0.8M23.8,2.5H26.1M23.9,3.0H26.3" fill="none" stroke="#777" stroke-width="0.75"/></svg><svg class="abs" style="left:247px;top:313.8px;opacity:0.68;filter:blur(0.35px);" width="28" height="5.8" viewBox="0 0 28 5.8"><path d="M2.5,0.0V3.1M2.0,1.5V3.8M0.0,0.3H2.8M2.1,1.5V4.6M0.8,0.3V4.1M0.6,2.5H2.7M6.4,0.7V4.5M7.1,1.0V3.4M4.7,1.4H8.0M6.4,0.9L6.6,3.0M5.1,1.2H8.1M4.9,0.5H7.5M9.9,3.9L12.9,1.5M12.6,0.8V4.7M10.1,1.9H12.2M9.8,4.0H12.8M9.7,1.0H12.1M9.8,0.6L12.2,2.6M17.3,0.7V4.7M15.5,0.8V3.7M15.1,0.0V4.5M14.2,0.8H17.2M15.0,3.8L16.7,1.2M20.1,1.6V3.5M19.5,2.2L20.9,0.6M19.7,1.5V4.1M19.3,1.3H21.5M23.8,1.4V4.4M23.6,1.2V3.4M24.0,3.3H26.7M24.3,1.1H26.0" fill="none" stroke="#777" stroke-width="0.75"/></svg><svg class="abs" style="left:173px;top:326px;opacity:0.6;filter:blur(0.35px);" width="27" height="5.6" viewBox="0 0 27 5.6"><path d="M0.9,1.2V3.1M0.4,3.6H3.0M0.9,2.9L3.0,4.0M0.3,3.7L2.5,3.2M0.0,2.1L3.1,4.6M0.1,4.0H2.9M7.0,0.1V3.1M4.8,1.1H7.5M5.2,1.5H7.2M5.5,1.2L7.6,2.0M5.8,0.0V4.3M5.6,0.1V4.4M10.2,1.5L10.8,3.6M9.4,4.0H12.3M10.1,2.4L11.2,1.6M9.7,2.3L11.4,3.2M13.9,1.1V3.7M16.6,0.2V4.2M14.3,3.1H16.3M16.7,1.0V3.9M13.8,0.5H16.4M13.6,1.5H16.7M18.2,1.1V3.2M20.3,0.2V4.1M18.9,1.0V3.2M21.1,1.1V3.2M22.5,1.7L24.7,0.9M22.6,1.4H25.7M23.0,0.5V3.7M22.4,0.9H24.9M23.7,3.3L24.3,4.5" fill="none" stroke="#4a62a8" stroke-width="0.69"/></svg><svg class="abs" style="left:260px;top:326px;opacity:0.6;filter:blur(0.35px);" width="28" height="5.6" viewBox="0 0 28 5.6"><path d="M3.4,0.8V4.3M0.1,1.7H3.0M2.7,1.1V4.0M0.0,3.3H3.1M5.6,2.9H8.4M5.6,3.5H8.2M5.6,1.0H7.7M5.1,2.5H8.3M5.3,0.4H8.0M9.5,0.4H12.4M12.8,1.0V4.0M9.4,1.2H12.7M10.2,4.3H12.5M9.3,1.8H12.7M10.2,0.3L11.5,0.3M15.0,0.3H16.8M15.4,0.0V4.3M16.0,0.8V3.9M15.6,0.9V4.0M14.6,1.9H16.7M20.8,0.5V3.9M19.5,1.4L21.7,1.6M18.6,3.1L20.8,2.1M19.0,3.0H21.9M19.2,2.4H21.7M19.6,1.0H21.8M24.1,1.1V4.1M23.8,2.1H26.7M26.4,0.9V4.4M26.1,0.2V3.8M26.2,1.5V4.0" fill="none" stroke="#4a62a8" stroke-width="0.69"/></svg><svg class="abs" style="left:321px;top:139px" width="204" height="206" viewBox="321 139 204 206">
<g fill="#111"><rect x="332.4" y="150.4" width="5.6" height="1.9"/><rect x="332.4" y="153" width="7.4" height="1.9"/><rect x="332.4" y="155.6" width="4" height="1.9"/><rect x="332.4" y="150.4" width="1.2" height="7.6"/></g>
<g stroke="#eeeeee" stroke-width=".5" stroke-dasharray="1 1.2"><path d="M389.7,166 V300"/><path d="M409.2,166 V300"/><path d="M427.1,166 V300"/><path d="M445.6,166 V300"/><path d="M465,166 V300"/><path d="M483.9,166 V300"/><path d="M502.4,166 V300"/></g><g fill="#3b7bbf"><rect x="371.2" y="168" width="25.7" height="16.7"/><rect x="371.2" y="187.1" width="32.3" height="17.0"/><rect x="371.2" y="206.5" width="38.0" height="15.3"/><rect x="371.2" y="224.5" width="116.6" height="16.4"/><rect x="371.2" y="243.6" width="61.0" height="16.7"/><rect x="371.2" y="262.7" width="38.3" height="16.5"/><rect x="371.2" y="281.9" width="38.3" height="17.0"/></g><text transform="translate(369.7,301.5) rotate(90)" font-family="Liberation Sans, sans-serif" font-size="6.1" fill="#8e8e8e">- 0</text><text transform="translate(387.59999999999997,301.5) rotate(90)" font-family="Liberation Sans, sans-serif" font-size="6.1" fill="#8e8e8e">- 2,000,000</text><text transform="translate(407.09999999999997,301.5) rotate(90)" font-family="Liberation Sans, sans-serif" font-size="6.1" fill="#8e8e8e">- 4,000,000</text><text transform="translate(425.0,301.5) rotate(90)" font-family="Liberation Sans, sans-serif" font-size="6.1" fill="#8e8e8e">- 6,000,000</text><text transform="translate(443.5,301.5) rotate(90)" font-family="Liberation Sans, sans-serif" font-size="6.1" fill="#8e8e8e">- 8,000,000</text><text transform="translate(462.9,301.5) rotate(90)" font-family="Liberation Sans, sans-serif" font-size="6.1" fill="#8e8e8e">- 10,000,000</text><text transform="translate(481.79999999999995,301.5) rotate(90)" font-family="Liberation Sans, sans-serif" font-size="6.1" fill="#8e8e8e">- 12,000,000</text><text transform="translate(500.29999999999995,301.5) rotate(90)" font-family="Liberation Sans, sans-serif" font-size="6.1" fill="#8e8e8e">- 14,000,000</text></svg><svg class="abs" style="left:344px;top:150.5px;opacity:1;filter:blur(0.3px);" width="47.3" height="7.6" viewBox="0 0 47.3 7.6"><path d="M0.6,5.3H3.9M1.5,0.9L4.6,5.1M0.6,1.7H3.6M1.3,0.7V5.9M4.3,1.4V6.3M4.4,2.0V4.7M7.8,1.7L8.5,1.6M8.6,0.8V5.4M6.8,2.2L9.4,4.0M6.3,5.7H10.0M6.4,2.3V5.3M12.0,5.1H16.2M12.3,4.4H15.6M13.1,5.3L16.1,6.3M12.0,2.4H16.2M13.8,1.2L14.4,5.4M20.1,3.0L22.0,1.5M19.0,3.5L21.1,2.1M18.0,4.0H22.5M19.5,1.1V6.5M18.4,2.3H21.6M24.5,1.2H27.5M23.9,3.3H28.0M28.1,2.3V4.4M27.3,2.0V6.1M26.7,0.8V4.9M25.8,4.5L28.5,2.0M29.8,5.4H34.4M31.2,1.6V5.8M31.4,5.9L33.3,5.3M29.8,5.9L32.5,4.4M30.6,2.7H34.4M30.4,1.7V4.9M36.1,3.9L40.2,0.5M36.8,3.8H39.4M37.5,2.0V4.4M39.6,0.6V4.9M35.7,1.3H40.0M35.6,2.7H39.8M41.2,1.8H44.9M42.4,0.8H45.6M41.6,0.6V5.8M41.2,2.2H45.2M41.2,4.0L45.0,5.3M42.4,5.5H44.9" fill="none" stroke="#000" stroke-width="1.20"/></svg><svg class="abs" style="left:341.6px;top:173.70000000000002px;opacity:0.7;filter:blur(0.35px);" width="27" height="6" viewBox="0 0 27 6"><path d="M0.9,4.4L4.3,0.1M0.4,3.2H3.6M3.4,0.3V3.3M1.1,2.6H3.6M0.9,1.8H4.2M6.6,1.1V4.7M5.9,1.1V4.4M8.4,1.0V3.9M6.8,0.4V4.2M6.7,3.9H8.7M7.2,1.7V4.9M11.5,2.5H14.1M11.6,0.9L13.3,3.7M11.2,3.9L13.1,1.2M11.9,1.7L14.4,4.0M16.3,0.1L19.9,4.0M17.7,1.1L19.2,1.9M17.0,4.3L19.8,0.2M16.5,3.4H19.7M16.6,2.2H20.4M22.7,3.8L25.9,4.8M21.7,1.6H24.7M22.1,3.1L24.5,4.8M22.6,0.5H25.8M22.1,1.4V4.0M22.5,1.6V4.4" fill="none" stroke="#777" stroke-width="0.75"/></svg><svg class="abs" style="left:347.6px;top:193.0px;opacity:0.7;filter:blur(0.35px);" width="21" height="6" viewBox="0 0 21 6"><path d="M0.0,0.8L4.1,3.7M0.9,1.0H3.1M0.9,4.4H4.1M0.1,4.0L2.6,3.4M7.6,1.2V4.5M5.3,4.3H8.4M7.3,0.0L8.5,1.1M7.9,1.0V5.0M8.6,1.7V3.4M7.1,1.1L9.4,0.4M10.6,0.6H14.1M11.0,2.8H13.5M13.2,1.0V4.2M14.3,1.5V4.5M17.5,0.3V4.6M17.5,3.2L19.8,1.2M19.6,1.2V4.5M17.5,0.4L19.3,3.1M16.3,3.5H19.4" fill="none" stroke="#777" stroke-width="0.75"/></svg><svg class="abs" style="left:347.6px;top:211.6px;opacity:0.7;filter:blur(0.35px);" width="21" height="6" viewBox="0 0 21 6"><path d="M1.5,1.7V3.3M3.4,0.9V4.3M0.5,3.7L3.5,1.9M1.7,0.9V4.3M1.5,1.1V4.2M6.5,1.5V4.8M6.0,2.9H9.5M5.7,3.7H8.5M6.1,1.9H8.4M6.2,1.7V4.7M8.8,0.6V3.9M10.8,0.9H13.6M11.2,3.9H14.1M11.8,2.0H14.4M12.5,1.4V4.6M11.0,3.3H14.1M19.0,0.4V4.2M16.5,1.4H19.1M19.4,0.4V3.7M18.0,0.9V3.4M16.1,4.6H19.7" fill="none" stroke="#777" stroke-width="0.75"/></svg><svg class="abs" style="left:345.6px;top:230.1px;opacity:0.7;filter:blur(0.35px);" width="23" height="6" viewBox="0 0 23 6"><path d="M1.8,1.2V3.8M1.2,3.2H3.8M1.3,2.9H3.6M1.7,3.3L3.3,1.6M0.5,3.7H4.1M4.0,1.3V3.3M7.4,5.0L9.2,0.9M5.9,2.0H10.1M6.0,1.3H9.8M6.4,1.9L8.9,2.3M6.6,4.1H9.1M12.1,1.2V4.5M12.1,1.2V4.0M15.9,1.4V4.8M12.2,1.8H14.8M18.0,0.7V4.4M18.5,2.0H21.5M17.8,1.4H21.2M18.8,0.2V3.6M21.4,1.1V4.5" fill="none" stroke="#777" stroke-width="0.75"/></svg><svg class="abs" style="left:354.6px;top:249.4px;opacity:0.7;filter:blur(0.35px);" width="14" height="6" viewBox="0 0 14 6"><path d="M0.6,4.4H2.6M0.4,2.6H3.2M0.9,1.5H2.9M2.8,1.0V4.0M0.8,0.3L3.4,2.2M5.6,4.2H7.8M5.5,3.5H7.4M5.5,3.5H8.1M5.4,1.4V4.5M10.4,3.8H12.4M10.4,1.6V4.5M10.1,0.5H11.9M9.9,2.9L11.6,1.6M10.1,1.6V3.8" fill="none" stroke="#777" stroke-width="0.75"/></svg><svg class="abs" style="left:347.6px;top:268.4px;opacity:0.7;filter:blur(0.35px);" width="21" height="6" viewBox="0 0 21 6"><path d="M1.4,4.9L2.6,1.6M0.8,1.6H3.9M0.2,0.9H3.4M0.4,0.4H3.8M6.4,1.7L8.0,3.8M8.9,0.2V4.1M6.5,0.4L8.5,0.7M6.3,4.3H8.5M5.3,4.8L8.6,1.7M6.6,1.7L7.5,2.2M11.6,0.7H14.5M12.5,1.3V3.4M10.5,2.0H13.5M12.3,1.2V4.0M10.7,3.7L14.2,1.8M11.2,0.0V4.4M16.9,0.7H18.9M18.0,0.2V4.1M16.4,2.7H19.2M16.0,2.1H18.9M16.4,4.2H19.9" fill="none" stroke="#777" stroke-width="0.75"/></svg><svg class="abs" style="left:347.6px;top:287.79999999999995px;opacity:0.7;filter:blur(0.35px);" width="21" height="6" viewBox="0 0 21 6"><path d="M3.2,1.0V4.5M0.2,3.6H3.3M0.7,2.0H3.3M0.2,1.2L3.4,3.0M7.0,1.7L7.5,0.5M5.5,3.7H8.6M6.0,3.7H8.5M6.3,4.4H8.3M5.6,0.8L8.5,4.0M6.3,1.6V4.5M12.2,2.5L13.6,3.9M12.1,1.0L14.0,3.1M12.2,3.6L12.8,1.7M11.4,4.6H14.4M17.7,4.2L19.5,4.0M17.6,1.4V4.6M16.4,2.7L19.9,4.7M16.8,4.6H19.0M16.2,2.3L18.3,1.2M19.3,1.2V4.5" fill="none" stroke="#777" stroke-width="0.75"/></svg><svg class="abs" style="left:531px;top:139px" width="204" height="206" viewBox="531 139 204 206"><g fill="#111"><path d="M545.8,151.2 A3,3 0 1 0 548.8,154.2 L545.8,154.2 Z"/><path d="M546.6,150.4 A3,3 0 0 1 549.6,153.4 L546.6,153.4 Z"/></g><path d="M632.8,267 L632.80,199.80 A67.2,67.2 0 0 1 699.35,257.65 Z" fill="#a8b927" stroke="#a8b927" stroke-width=".3"/><path d="M632.8,267 L699.35,257.65 A67.2,67.2 0 0 1 698.65,280.40 Z" fill="#41b86a" stroke="#41b86a" stroke-width=".3"/><path d="M632.8,267 L698.65,280.40 A67.2,67.2 0 0 1 677.59,317.10 Z" fill="#3192b1" stroke="#3192b1" stroke-width=".3"/><path d="M632.8,267 L677.59,317.10 A67.2,67.2 0 0 1 652.90,331.12 Z" fill="#e88bbb" stroke="#e88bbb" stroke-width=".3"/><path d="M632.8,267 L652.90,331.12 A67.2,67.2 0 0 1 600.84,326.11 Z" fill="#bd9434" stroke="#bd9434" stroke-width=".3"/><path d="M632.8,267 L600.53,325.94 A67.2,67.2 0 0 1 578.30,306.31 Z" fill="#7cc24a" stroke="#7cc24a" stroke-width=".3"/><path d="M632.8,267 L578.30,306.31 A67.2,67.2 0 0 1 566.45,277.63 Z" fill="#6263b4" stroke="#6263b4" stroke-width=".3"/><path d="M632.8,267 L566.45,277.63 A67.2,67.2 0 0 1 568.96,246.01 Z" fill="#a98bd0" stroke="#a98bd0" stroke-width=".3"/><path d="M632.8,267 L568.96,246.01 A67.2,67.2 0 0 1 581.55,223.54 Z" fill="#e98b52" stroke="#e98b52" stroke-width=".3"/><path d="M632.8,267 L581.55,223.54 A67.2,67.2 0 0 1 615.86,201.97 Z" fill="#36b9c6" stroke="#36b9c6" stroke-width=".3"/><path d="M632.8,267 L615.86,201.97 A67.2,67.2 0 0 1 632.80,199.80 Z" fill="#3b7bbf" stroke="#3b7bbf" stroke-width=".3"/><text x="628.4" y="234.70000000000002" text-anchor="middle" font-family="Liberation Sans, sans-serif" font-size="5.2" fill="#fff" opacity=".88">16,000,000</text><text x="654.6" y="242.8" text-anchor="middle" font-family="Liberation Sans, sans-serif" font-size="5.2" fill="#fff" opacity=".88">46,750,000</text><text x="614.6" y="240.8" text-anchor="middle" font-family="Liberation Sans, sans-serif" font-size="5.2" fill="#fff" opacity=".88">20,700,000</text><text x="604.4" y="251.8" text-anchor="middle" font-family="Liberation Sans, sans-serif" font-size="5.2" fill="#fff" opacity=".88">11,300,000</text><text x="599.5" y="265.2" text-anchor="middle" font-family="Liberation Sans, sans-serif" font-size="5.2" fill="#fff" opacity=".88">18,000,000</text><text x="602" y="280.7" text-anchor="middle" font-family="Liberation Sans, sans-serif" font-size="5.2" fill="#fff" opacity=".88">17,800,000</text><text x="610.5" y="293.7" text-anchor="middle" font-family="Liberation Sans, sans-serif" font-size="5.2" fill="#fff" opacity=".88">15,100,000</text><text x="630.8" y="301.8" text-anchor="middle" font-family="Liberation Sans, sans-serif" font-size="5.2" fill="#fff" opacity=".88">27,750,000</text><text x="650.6" y="298.6" text-anchor="middle" font-family="Liberation Sans, sans-serif" font-size="5.2" fill="#fff" opacity=".88">14,600,000</text><text x="663" y="285.5" text-anchor="middle" font-family="Liberation Sans, sans-serif" font-size="5.2" fill="#fff" opacity=".88">20,200,000</text><text x="667.5" y="269.3" text-anchor="middle" font-family="Liberation Sans, sans-serif" font-size="5.2" fill="#fff" opacity=".88">11,800,000</text></svg><svg class="abs" style="left:553.2px;top:150.5px;opacity:1;filter:blur(0.3px);" width="43.5" height="7.6" viewBox="0 0 43.5 7.6"><path d="M1.9,5.5L5.3,2.7M1.4,4.2H4.4M4.3,1.8V4.3M0.5,0.3V6.2M0.8,3.9H4.4M6.2,3.1H10.6M6.7,2.7L11.3,3.6M7.2,1.6H10.6M7.2,1.0L9.8,1.1M7.6,5.2H11.6M13.7,1.3L17.8,5.5M12.3,3.5H16.5M13.6,1.7L17.3,2.3M13.8,3.6H17.0M13.8,5.8H17.3M19.0,1.9H22.8M22.1,2.2V6.2M19.3,4.2H23.5M20.0,5.5H22.5M19.4,2.2H22.6M21.1,2.2V5.4M25.6,3.8H28.6M25.7,4.8H29.0M26.5,1.3V5.3M26.5,4.5L29.6,2.5M26.6,1.8L29.3,1.1M31.8,3.4L34.0,5.8M31.1,4.7H35.2M31.5,2.1H36.3M31.4,6.2L34.4,1.3M37.6,4.4H41.4M38.3,6.1L40.1,4.1M39.3,0.4V6.4M37.9,2.0H41.9M38.2,2.6L40.0,4.7" fill="none" stroke="#000" stroke-width="1.20"/></svg><div class="dot" style="left:551.3px;top:167.4px;background:#2f6fc0;width:3.2px;height:2.8px"></div><svg class="abs" style="left:558px;top:166.7px;opacity:0.78;filter:blur(0.35px);" width="36.4" height="5.6" viewBox="0 0 36.4 5.6"><path d="M0.3,0.1L3.1,2.4M1.4,1.0V3.6M1.9,0.4L4.0,2.8M1.8,4.3L3.7,0.8M1.0,3.2H3.2M6.0,1.5L8.4,4.0M6.0,1.2V3.7M5.8,3.1L7.8,4.3M5.9,0.2H8.5M6.3,1.2V4.3M8.6,0.2V3.3M13.9,1.4V4.2M11.8,0.6L14.4,3.2M12.9,0.4V3.1M13.7,0.4V3.3M16.7,2.6H18.7M15.7,2.4H19.8M16.5,2.1H19.1M19.4,1.0V3.9M21.0,2.9L23.4,1.6M21.0,2.6H24.8M21.8,3.7H24.4M20.8,3.5H24.4M21.3,1.0V4.2M22.5,0.8V3.9M28.0,4.5L28.8,0.3M26.8,0.7V4.1M27.9,0.6V3.3M26.2,1.4H29.9M34.3,1.2V4.2M32.2,3.4H34.5M31.2,2.8L34.8,0.1M32.2,2.0H34.9M33.4,0.9V4.0" fill="none" stroke="#222" stroke-width="0.80"/></svg><div class="dot" style="left:599.1px;top:167.4px;background:#35b8c8;width:3.2px;height:2.8px"></div><svg class="abs" style="left:606.6px;top:166.7px;opacity:0.78;filter:blur(0.35px);" width="15.7" height="5.6" viewBox="0 0 15.7 5.6"><path d="M0.7,0.8L2.2,1.6M1.7,0.5L3.1,0.5M0.6,3.4H4.3M1.7,3.8L3.2,0.6M0.7,2.6H3.3M5.6,3.7L7.9,2.4M8.2,0.3V4.4M6.0,0.2V4.2M5.6,1.3V4.6M11.6,2.6H14.5M11.0,2.5H14.4M10.4,1.6L13.0,4.1M11.6,3.9H14.0" fill="none" stroke="#222" stroke-width="0.80"/></svg><div class="dot" style="left:628.4px;top:167.4px;background:#e8854a;width:3.2px;height:2.8px"></div><svg class="abs" style="left:635px;top:166.7px;opacity:0.78;filter:blur(0.35px);" width="29.8" height="5.6" viewBox="0 0 29.8 5.6"><path d="M3.4,1.2V3.9M3.3,0.3V4.0M2.0,2.2L3.5,4.1M0.7,0.8V3.6M3.0,1.4V3.0M2.9,0.4V4.2M5.9,4.3H7.8M6.1,1.2H8.1M8.4,1.0V4.5M5.0,0.9H8.7M10.5,0.8H13.5M11.1,2.3H13.2M10.0,3.0L12.0,0.4M12.3,1.3V3.9M12.5,1.0V3.7M12.1,0.3V3.3M15.7,3.2H18.5M16.1,2.4L17.0,3.1M15.9,1.2H18.9M15.2,1.4H18.0M17.1,0.5V3.3M20.5,3.1H23.3M21.5,1.0V4.0M21.3,4.2L23.4,3.9M20.2,1.1V4.4M25.3,4.1H28.4M25.2,1.5H28.0M25.9,2.1H28.4M26.3,4.6L28.5,3.5" fill="none" stroke="#222" stroke-width="0.80"/></svg><div class="dot" style="left:666.6px;top:167.4px;background:#a888d0;width:3.2px;height:2.8px"></div><svg class="abs" style="left:672.6px;top:166.7px;opacity:0.78;filter:blur(0.35px);" width="16.4" height="5.6" viewBox="0 0 16.4 5.6"><path d="M0.5,2.5H3.9M0.0,3.6H4.2M0.1,1.6H3.4M0.6,3.8H3.6M5.8,3.0L8.9,2.5M6.4,3.2L9.8,4.5M5.8,1.1H9.8M6.4,1.3H10.0M11.9,1.5V3.4M12.2,1.6H14.2M12.3,3.0L14.5,3.4M11.0,0.5H14.6M11.6,3.3H14.1" fill="none" stroke="#222" stroke-width="0.80"/></svg><div class="dot" style="left:693.9px;top:167.4px;background:#4848a8;width:3.2px;height:2.8px"></div><svg class="abs" style="left:700.5px;top:166.7px;opacity:0.78;filter:blur(0.35px);" width="23" height="5.6" viewBox="0 0 23 5.6"><path d="M1.1,2.3H3.3M0.2,3.4H2.7M0.8,1.9H3.1M0.6,1.5V3.5M0.1,1.0L3.4,3.9M1.2,0.0L2.4,0.9M5.8,1.2L7.0,0.2M7.5,0.1V3.4M4.6,2.6H7.5M5.6,4.1H7.5M9.4,3.5H12.1M9.8,0.4V4.3M10.0,1.8H12.0M9.6,1.1H12.1M13.8,0.3H16.7M14.3,1.4H16.9M14.3,2.5H16.8M16.9,1.5V3.7M14.0,1.0H16.8M18.8,0.4V4.2M21.3,1.5V4.4M18.9,4.1H21.2M18.6,3.8H21.0M18.8,4.1H21.7" fill="none" stroke="#222" stroke-width="0.80"/></svg><div class="dot" style="left:551.3px;top:178.6px;background:#78c048;width:3.2px;height:2.8px"></div><svg class="abs" style="left:558px;top:177.89999999999998px;opacity:0.78;filter:blur(0.35px);" width="43" height="5.6" viewBox="0 0 43 5.6"><path d="M0.6,0.5V4.3M0.6,3.1H3.0M2.3,1.3V4.4M2.5,0.1V4.0M2.5,0.2V3.6M7.9,0.6V4.4M5.5,1.2H8.5M4.8,1.1H8.0M5.6,1.0H8.1M5.5,0.1L8.0,4.4M10.4,3.8H13.0M9.8,4.0H12.8M9.8,3.5H13.4M9.9,0.3V3.7M11.7,1.2V3.4M15.4,0.7V3.9M15.1,0.4V3.2M14.6,2.4L16.5,2.7M14.4,0.8L16.7,2.7M19.3,2.6H21.9M22.5,1.1V3.1M22.0,1.6V4.4M19.3,3.3H21.9M19.4,1.8H22.5M24.6,1.2H27.2M25.6,0.9L27.6,0.3M24.9,3.2L26.1,1.2M24.4,1.7H27.3M24.6,3.3H27.1M26.7,0.0V3.8M30.3,1.5L31.4,4.5M28.8,2.5L32.4,1.8M29.0,3.3H32.1M29.0,2.3H32.5M31.8,0.2V3.8M29.8,2.2L31.8,2.1M33.9,3.1H36.3M33.7,1.1V3.2M34.3,4.2H37.0M35.7,1.1V4.5M33.7,3.4H36.4M34.5,4.0L36.9,2.7M39.8,0.9V3.0M39.8,1.1L40.2,0.8M39.0,4.0H41.1M38.2,0.6H41.1" fill="none" stroke="#222" stroke-width="0.80"/></svg><div class="dot" style="left:605.3px;top:178.6px;background:#c89030;width:3.2px;height:2.8px"></div><svg class="abs" style="left:612.5px;top:177.89999999999998px;opacity:0.78;filter:blur(0.35px);" width="31.8" height="5.6" viewBox="0 0 31.8 5.6"><path d="M1.5,0.7V3.8M0.1,0.5H3.3M0.9,2.8H3.4M1.6,2.3L2.9,0.9M6.9,1.9L9.3,1.4M5.4,1.5H9.0M6.3,0.9H8.9M8.6,1.0V4.3M7.2,0.0V4.5M5.9,3.7H9.3M13.6,0.0V4.2M11.4,1.4H14.5M14.2,0.3V3.5M11.9,0.3V3.4M14.0,1.2V4.5M11.2,3.3L13.4,0.3M16.2,1.6H19.1M17.1,0.0V3.5M17.4,3.2L19.9,2.2M16.7,0.5H19.7M21.4,3.0H24.6M24.1,1.2V3.6M24.9,1.5V4.0M22.0,2.1H24.6M27.2,2.2H29.9M27.4,3.3H30.1M26.5,1.9H30.8M27.4,1.4H29.7M26.6,0.5H30.2M26.8,3.5L29.0,2.0" fill="none" stroke="#222" stroke-width="0.80"/></svg><div class="dot" style="left:648.4px;top:178.6px;background:#e880b0;width:3.2px;height:2.8px"></div><svg class="abs" style="left:655.6px;top:177.89999999999998px;opacity:0.78;filter:blur(0.35px);" width="18" height="5.6" viewBox="0 0 18 5.6"><path d="M0.8,0.4L2.8,4.3M1.3,1.0L2.5,0.9M1.4,0.9L2.5,3.6M3.0,0.8V4.4M5.3,2.4H7.7M5.6,3.4L6.8,3.9M6.7,0.1V3.0M5.3,1.7H7.3M9.5,3.8L12.3,1.2M9.3,1.8H11.9M9.9,1.2H11.9M11.9,1.2V3.4M14.7,3.7L16.6,1.2M14.9,1.4V3.2M14.7,1.3V3.5M14.9,0.6L16.8,4.3" fill="none" stroke="#222" stroke-width="0.80"/></svg><div class="dot" style="left:677.4px;top:178.6px;background:#2e90b8;width:3.2px;height:2.8px"></div><svg class="abs" style="left:684.4px;top:177.89999999999998px;opacity:0.78;filter:blur(0.35px);" width="15.6" height="5.6" viewBox="0 0 15.6 5.6"><path d="M3.6,1.3V4.3M2.0,2.1L3.1,3.4M1.6,0.3L2.9,0.5M1.9,1.7L2.2,2.8M0.5,1.4V4.0M0.5,2.2H3.8M8.7,1.2V3.5M6.4,2.7L7.5,3.8M7.2,0.7V4.4M6.3,0.6V3.6M6.7,4.2L7.6,0.2M7.1,1.2V3.7M11.3,2.4H13.4M11.6,1.7L12.6,4.3M11.2,1.0V3.1M11.6,1.6H14.0M11.4,0.0L14.1,4.0M12.0,1.3V4.4" fill="none" stroke="#222" stroke-width="0.80"/></svg><div class="dot" style="left:551.3px;top:190.0px;background:#30a860;width:3.2px;height:2.8px"></div><svg class="abs" style="left:558px;top:189.29999999999998px;opacity:0.78;filter:blur(0.35px);" width="16.4" height="5.6" viewBox="0 0 16.4 5.6"><path d="M1.2,4.0L4.0,1.7M0.5,2.3L2.3,4.1M2.2,4.3L3.4,2.6M1.1,2.8H3.7M6.7,0.3V4.0M6.5,3.4H9.8M6.2,3.5H8.9M6.0,4.0L8.1,4.5M6.2,0.7V3.9M11.0,2.0L15.3,0.4M11.8,3.5H14.2M13.7,1.6V3.5M12.2,0.3V3.2M11.3,2.8H14.3" fill="none" stroke="#222" stroke-width="0.80"/></svg><div class="dot" style="left:579.4px;top:190.0px;background:#a8b828;width:3.2px;height:2.8px"></div><svg class="abs" style="left:587px;top:189.29999999999998px;opacity:0.78;filter:blur(0.35px);" width="16" height="5.6" viewBox="0 0 16 5.6"><path d="M0.2,2.7H3.5M1.0,3.7H3.9M1.4,0.8V3.7M2.2,0.4V3.6M5.9,1.7H8.8M7.1,0.2V4.4M5.7,1.4V4.2M6.5,2.8H8.9M11.6,2.9H13.7M13.3,1.1V3.6M10.9,2.6H14.7M11.5,2.5H14.1M11.9,4.0H14.5" fill="none" stroke="#222" stroke-width="0.80"/></svg></div></body></html>
